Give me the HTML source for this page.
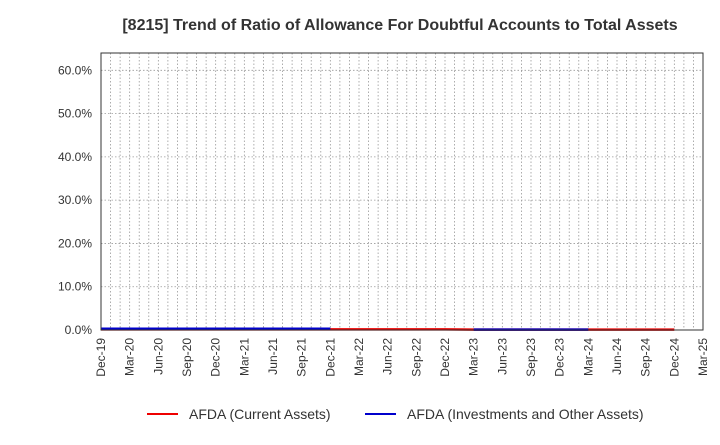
<!DOCTYPE html>
<html><head><meta charset="utf-8"><style>
body{margin:0;background:#fff;font-family:"Liberation Sans",Arial,sans-serif}
svg text{font-family:"Liberation Sans",Arial,sans-serif}
</style></head><body>
<svg id="c" width="720" height="440" xmlns="http://www.w3.org/2000/svg">
<text x="400" y="30" text-anchor="middle" font-size="16" font-weight="bold" fill="#333">[8215]  Trend of Ratio of Allowance For Doubtful Accounts to Total Assets</text>
<g id="grid"></g><g id="series"></g><g id="axes"></g>
<g>
<line x1="147" y1="414" x2="178" y2="414" stroke="#e00" stroke-width="2"/>
<text x="189" y="419" font-size="14" fill="#333">AFDA (Current Assets)</text>
<line x1="365" y1="414" x2="396" y2="414" stroke="#00c" stroke-width="2"/>
<text x="407" y="419" font-size="14" fill="#333">AFDA (Investments and Other Assets)</text>
</g>
</svg>
<script>
const categories=["Dec-19","Mar-20","Jun-20","Sep-20","Dec-20","Mar-21","Jun-21","Sep-21","Dec-21","Mar-22","Jun-22","Sep-22","Dec-22","Mar-23","Jun-23","Sep-23","Dec-23","Mar-24","Jun-24","Sep-24","Dec-24","Mar-25"];
const currentAssets=[0.15,0.15,0.15,0.15,0.15,0.15,0.15,0.15,0.15,0.15,0.15,0.15,0.15,0.1,0.1,0.1,0.1,0.1,0.1,0.1,0.1,null];
const investments=[0.3,0.3,0.3,0.3,0.3,0.3,0.3,0.3,0.3,null,null,null,null,0.1,0.1,0.1,0.1,0.1,null,null,null,null];
const yTicks=[0,10,20,30,40,50,60];
const NS="http://www.w3.org/2000/svg";
const X0=101,X1=703,Y0=330,Ytop=53,YMAX=64;
const xs=i=>X0+i*(X1-X0)/(categories.length-1);
const ys=v=>Y0-v/YMAX*(Y0-Ytop);
function mk(t,a,p){const e=document.createElementNS(NS,t);for(const k in a)e.setAttribute(k,a[k]);p.appendChild(e);return e;}
const grid=document.getElementById('grid'),axes=document.getElementById('axes'),ser=document.getElementById('series');
for(let m=1;m<(categories.length-1)*3;m++){const x=X0+m*(X1-X0)/((categories.length-1)*3);
 const l=mk('line',{x1:x,x2:x,y1:Ytop,y2:Y0,stroke:'#999','stroke-width':0.8,'stroke-dasharray':'1.5,2'},grid);
 
 }
yTicks.forEach(v=>{const y=ys(v);
 if(v>0){const l=mk('line',{x1:X0,x2:X1,y1:y,y2:y,stroke:'#999','stroke-width':0.8,'stroke-dasharray':'1.5,2'},grid);
 
 }
 const t=mk('text',{x:92,y:y+4,'text-anchor':'end','font-size':12,fill:'#333'},axes);t.textContent=v.toFixed(1)+'%';
 
 });
const r=mk('rect',{x:X0,y:Ytop,width:X1-X0,height:Y0-Ytop,fill:'none',stroke:'#333','stroke-width':1},axes);


categories.forEach((c,i)=>{const x=xs(i);
 const t=mk('text',{x:0,y:0,'text-anchor':'end','font-size':12,fill:'#333',transform:`translate(${x+4},338) rotate(-90)`},axes);t.textContent=c;
 
 });
function line(vals,col,name){let d='',pen=false;vals.forEach((v,i)=>{if(v==null){pen=false;return;}d+=(pen?'L':'M')+xs(i)+','+ys(v);pen=true;});
 const p=mk('path',{d:d,fill:'none',stroke:col,'stroke-width':2.5},ser);
 
 }
line(currentAssets,'#e00','series-current-assets');
line(investments,'#00c','series-investments');
</script>
</body></html>
